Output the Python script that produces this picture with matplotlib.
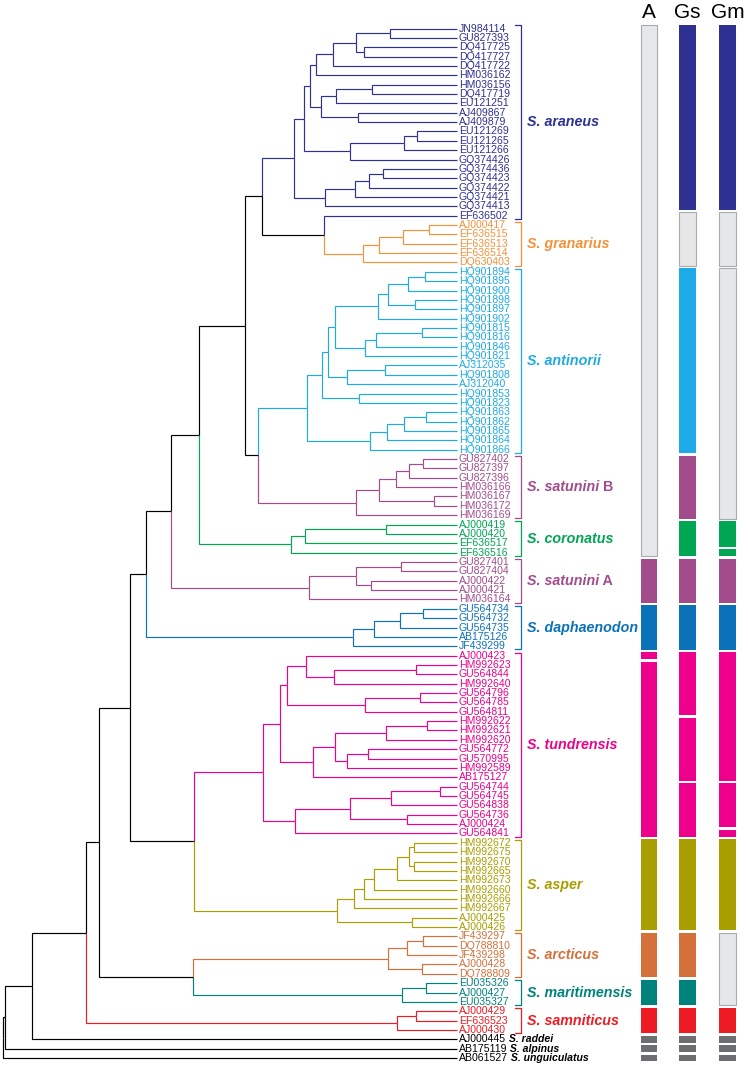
import matplotlib
matplotlib.use('Agg')
import matplotlib.pyplot as plt
from matplotlib.patches import Rectangle

plt.rcParams['font.family'] = ['Liberation Sans', 'DejaVu Sans']

# tree: [node depth, child, child, ...], leaves are accession numbers
araneus = [294,
           [304,
            [310,
             [316,
              [332.7,
               [356, [390, 'JN984114', 'GU827393'], [364, 'DQ417725', 'DQ417727']],
               'DQ417722'],
              'HM036162'],
             [320.7,
              [336, [371.7, 'HM036156', 'DQ417719'], 'EU121251'],
              [358, 'AJ409867', 'AJ409879']]],
            [350, [404, [417, 'EU121269', 'EU121265'], 'EU121266'], 'GQ374426']],
           [324.7, [355, [369, [383, 'GQ374436', 'GQ374423'], 'GQ374422'], 'GQ374421'], 'GQ374413']]
granarius = [324, 'EF636502',
             [363.3, [378.7, [402.7, [428.7, 'AJ000417', 'EF636515'], 'EF636513'], 'EF636514'], 'DQ630403']]
antinorii = [306.7,
             [322.3,
              [328.3,
               [335,
                [377.7, [388.3, [408.3, [425, 'HQ901894', 'HQ901895'], 'HQ901900'],
                         [415.3, 'HQ901898', 'HQ901897']], 'HQ901902'],
                [365.3, [375.7, [421.7, 'HQ901815', 'HQ901816'], 'HQ901846'], 'HQ901821']],
               [347.3, [384.7, 'AJ312035', 'HQ901808'], 'AJ312040']],
              [359.3, 'HQ901853', 'HQ901823']],
             [370, [387.3, [404.3, [425.7, 'HQ901863', 'HQ901862'], 'HQ901865'], 'HQ901864'], 'HQ901866']]
satunini_b = [355.7, [378.7, [395.7, [409, [423.3, 'GU827402', 'GU827397'], 'GU827396'], 'HM036166'],
                      [434, 'HM036167', 'HM036172']], 'HM036169']
coronatus = [290.7, [304.7, [385.7, 'AJ000419', 'AJ000420'], 'EF636517'], 'EF636516']
satunini_a = [308.7, [356, [401, 'GU827401', 'GU827404'], [370.7, 'AJ000422', 'AJ000421']], 'HM036164']
daphaenodon = [352.7, [374, [400, [422.7, 'GU564734', 'GU564732'], 'GU564735'], 'AB175126'], 'JF439299']
tundrensis = [262.7,
              [280,
               [286.7,
                [306, 'AJ000423', [334.3, [415.7, 'HM992623', 'GU564844'], 'HM992640']],
                [365, [420, 'GU564796', 'GU564785'], 'GU564811']],
               [312.7,
                [335, [386, [426.7, 'HM992622', 'HM992621'], 'HM992620'],
                 [347.3, [367.7, 'GU564772', 'GU570995'], 'HM992589']],
                'AB175127']],
              [295, [350, [390.7, [440, 'GU564744', 'GU564745'], 'GU564838'],
                     [407.3, 'GU564736', 'AJ000424']], 'GU564841']]
asper = [336.7,
         [354.3, [364.3, [374.3, [396.7, [409, [414.3, 'HM992672', 'HM992675'],
                                          [414.3, 'HM992670', 'HM992665']], 'HM992673'],
                          'HM992660'], 'HM992666'], 'HM992667'],
         [411.7, 'AJ000425', 'AJ000426']]
arcticus = [388, [406.7, [422.7, 'JF439297', 'DQ788810'], 'JF439298'], [421.8, 'AJ000428', 'DQ788809']]
maritimensis = [402.4, [425.9, 'EU035326', 'AJ000427'], 'EU035327']
samniticus = [397, [415.6, 'AJ000429', 'EF636523'], 'AJ000430']

tree = [2.7,
        [5,
         [31.7,
          [85.7,
           [98.7,
            [129.7,
             [146.3,
              [171.3,
               [199.3,
                [245, [261.7, araneus, granarius], [257.7, antinorii, satunini_b]],
                coronatus],
               satunini_a],
              daphaenodon],
             [194.3, tundrensis, asper]],
            [193, arcticus, maritimensis]],
           samniticus],
          'AJ000445'],
         'AB175119'],
        'AB061527']
tip_x = 456.7

# clade: label, first leaf, last leaf, colour
clades = [
    ('S. araneus', '', 'JN984114', 'EF636502', '#2e3192'),
    ('S. granarius', '', 'AJ000417', 'DQ630403', '#f4923a'),
    ('S. antinorii', '', 'HQ901894', 'HQ901866', '#1eaae6'),
    ('S. satunini', 'B', 'GU827402', 'HM036169', '#a24c8c'),
    ('S. coronatus', '', 'AJ000419', 'EF636516', '#00a651'),
    ('S. satunini', 'A', 'GU827401', 'HM036164', '#a24c8c'),
    ('S. daphaenodon', '', 'GU564734', 'JF439299', '#0b72b9'),
    ('S. tundrensis', '', 'AJ000423', 'GU564841', '#ec008c'),
    ('S. asper', '', 'HM992672', 'AJ000426', '#a89e00'),
    ('S. arcticus', '', 'JF439297', 'DQ788809', '#d4703a'),
    ('S. maritimensis', '', 'EU035326', 'EU035327', '#00827c'),
    ('S. samniticus', '', 'AJ000429', 'AJ000430', '#ed1c24'),
]
outgroups = {'AJ000445': 'S. raddei', 'AB175119': 'S. alpinus', 'AB061527': 'S. unguiculatus'}

# bar columns: (first leaf index, last leaf index, colour key)
columns = ['A', 'Gs', 'Gm']
col_x = [648.7, 687.5, 727.5]
seg_A = [(0, 56, 'grey'), (57, 61, 'S. satunini A'), (62, 66, 'S. daphaenodon'),
         (67, 67, 'S. tundrensis'), (68, 86, 'S. tundrensis'), (87, 96, 'S. asper'),
         (97, 101, 'S. arcticus'), (102, 104, 'S. maritimensis'), (105, 107, 'S. samniticus'),
         (108, 108, 'out'), (109, 109, 'out'), (110, 110, 'out')]
seg_Gs = [(0, 19, 'S. araneus'), (20, 25, 'grey'), (26, 45, 'S. antinorii'), (46, 52, 'S. satunini B'),
          (53, 56, 'S. coronatus'), (57, 61, 'S. satunini A'), (62, 66, 'S. daphaenodon'),
          (67, 73, 'S. tundrensis'), (74, 80, 'S. tundrensis'), (81, 86, 'S. tundrensis'),
          (87, 96, 'S. asper'), (97, 101, 'S. arcticus'), (102, 104, 'S. maritimensis'),
          (105, 107, 'S. samniticus'), (108, 108, 'out'), (109, 109, 'out'), (110, 110, 'out')]
seg_Gm = [(0, 19, 'S. araneus'), (20, 25, 'grey'), (26, 52, 'grey'), (53, 55, 'S. coronatus'),
          (56, 56, 'S. coronatus'), (57, 61, 'S. satunini A'), (62, 66, 'S. daphaenodon'),
          (67, 80, 'S. tundrensis'), (81, 85, 'S. tundrensis'), (86, 86, 'S. tundrensis'),
          (87, 96, 'S. asper'), (97, 104, 'grey'), (105, 107, 'S. samniticus'),
          (108, 108, 'out'), (109, 109, 'out'), (110, 110, 'out')]
segments = [seg_A, seg_Gs, seg_Gm]


# leaf order
leaves = []
def collect(n):
    if isinstance(n, str):
        leaves.append(n)
        return
    for c in n[1:]:
        collect(c)
collect(tree)
idx = {name: i for i, name in enumerate(leaves)}

leaf_clade = {}
clade_col = {'grey': '#e6e7e8', 'out': '#6d6e71'}
for lab, suf, first, last, col in clades:
    for i in range(idx[first], idx[last] + 1):
        leaf_clade[leaves[i]] = (lab + ' ' + suf).strip()
    clade_col[(lab + ' ' + suf).strip()] = col


def leafset(n):
    if isinstance(n, str):
        return [n]
    out = []
    for c in n[1:]:
        out += leafset(c)
    return out


def edge_color(n):
    cl = set(leaf_clade.get(l, None) for l in leafset(n))
    if len(cl) == 1 and None not in cl:
        return clade_col[cl.pop()]
    return 'black'


fig = plt.figure(figsize=(7.48, 10.65), dpi=100)
ax = fig.add_axes([0, 0, 1, 1])
ax.set_xlim(0, 748)
ax.set_ylim(110.74, -3.045)
ax.axis('off')


def draw(n):
    if isinstance(n, str):
        return idx[n]
    ys = [draw(c) for c in n[1:]]
    y = (ys[0] + ys[-1]) / 2
    for c, cy in zip(n[1:], ys):
        cx = tip_x if isinstance(c, str) else c[0]
        ax.plot([n[0], n[0], cx], [y, cy, cy], color=edge_color(c), lw=0.85,
                solid_joinstyle='miter', solid_capstyle='butt')
    return y
draw(tree)

# leaf labels
for name in leaves:
    col = clade_col[leaf_clade[name]] if name in leaf_clade else 'black'
    t = ax.text(tip_x + 2, idx[name], name, fontsize=7.6, color=col, va='center', ha='left')
    if name in outgroups:
        ax.annotate(' ' + outgroups[name], xy=(1, 0), xycoords=t, va='bottom', ha='left',
                    fontsize=7.6, fontweight='bold', fontstyle='italic', color='black')

# brackets and clade names
for lab, suf, first, last, col in clades:
    y0, y1 = idx[first] - 0.33, idx[last] + 0.33
    ax.plot([515.5, 521.5, 521.5, 515.5], [y0, y0, y1, y1], color=col, lw=0.9)
    t = ax.text(527, (y0 + y1) / 2, lab, fontsize=10.3, fontweight='bold', fontstyle='italic',
                color=col, va='center', ha='left')
    if suf:
        ax.annotate(' ' + suf, xy=(1, 0), xycoords=t, va='bottom', ha='left',
                    fontsize=10.3, fontweight='bold', color=col)

# character bars
w = 16.3
for name, x, segs in zip(columns, col_x, segments):
    ax.text(x, -1.75, name, fontsize=15, ha='center', va='center', color='black')
    for i0, i1, key in segs:
        ec = '#a9abae' if key == 'grey' else 'none'
        ax.add_patch(Rectangle((x - w / 2, i0 - 0.5 + 0.14), w, i1 - i0 + 1 - 0.28,
                               facecolor=clade_col[key], edgecolor=ec, lw=0.8))

fig.savefig('out.png', dpi=100)
